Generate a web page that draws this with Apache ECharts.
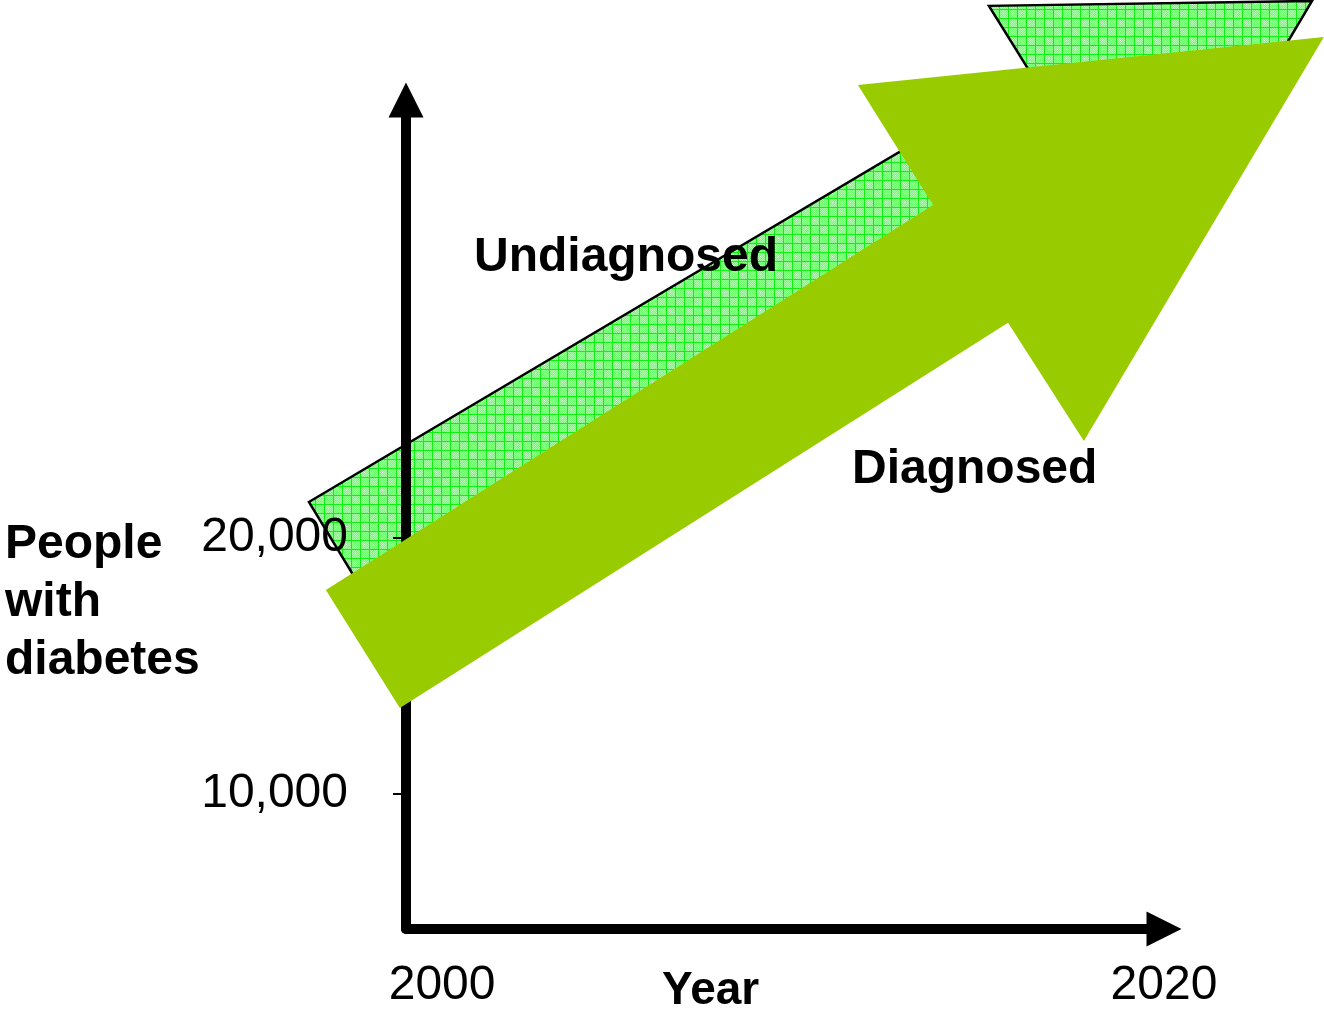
<!DOCTYPE html>
<html>
<head>
<meta charset="utf-8">
<title>People with diabetes</title>
<script src="https://cdn.jsdelivr.net/npm/echarts@6/dist/echarts.min.js"></script>
<style>
  html, body { margin: 0; padding: 0; background: #fff; }
  #chart { width: 1324px; height: 1012px; }
</style>
</head>
<body>
<div id="chart"></div>
<script>
// axis ticks
const yearLabels = [2000, 2020]
const peopleTicks = [10000, 20000]

// arrow outlines in (year, people), clockwise from the tail top corner
const undiagnosedYears = [1996.31, 2016.32, 2015.15, 2024.10, 2019.67, 2018.34, 1998.31]
const undiagnosedPeople = [21390, 38120, 40780, 40970, 30420, 33470, 16740]

const diagnosedYears = [1996.78, 2013.60, 2011.52, 2024.43, 2017.78, 2015.68, 1998.83]
const diagnosedPeople = [17950, 33000, 37690, 39560, 23770, 28390, 13340]

const FONT = '"Liberation Sans", Arial, sans-serif'

// light green chequered fill, like the old office pattern
function gridPattern() {
  const size = 9
  const c = document.createElement('canvas')
  c.width = size
  c.height = size
  const ctx = c.getContext('2d')
  for (let i = 0; i < size; i++) {
    for (let j = 0; j < size; j++) {
      ctx.fillStyle = (i + j) % 2 ? '#6cff6c' : '#a8ffa8'
      ctx.fillRect(i, j, 1, 1)
    }
  }
  ctx.fillStyle = '#f4fff4'
  ctx.fillRect(4, 4, 1, 1)
  ctx.fillStyle = '#10f010'
  ctx.fillRect(0, 0, size, 1)
  ctx.fillRect(0, 0, 1, size)
  return c
}

function arrowSeries(name, years, people, style, z) {
  return {
    name: name,
    type: 'custom',
    z: z,
    silent: true,
    clip: false,
    data: years.map((y, i) => [y, people[i]]),
    encode: { x: 0, y: 1 },
    renderItem(params, api) {
      if (params.dataIndex !== 0) return null
      const points = years.map((y, i) => api.coord([y, people[i]]))
      return { type: 'polygon', shape: { points: points }, style: style }
    }
  }
}

const chart = echarts.init(document.getElementById('chart'))

const option = {
  backgroundColor: '#fff',
  animation: false,
  grid: {
    left: 406,
    right: 160,
    top: 100,
    bottom: 83,
    containLabel: false,
    outerBoundsMode: 'none'
  },
  xAxis: {
    type: 'value',
    min: 1999,
    max: 2020,
    z: 3,
    axisLine: {
      show: true,
      onZero: false,
      symbol: ['none', 'triangle'],
      symbolSize: [35, 35],
      lineStyle: { color: '#000', width: 10 }
    },
    axisTick: { show: false },
    splitLine: { show: false },
    axisLabel: {
      customValues: yearLabels,
      formatter: v => String(v),
      color: '#000',
      fontSize: 48,
      fontFamily: FONT,
      margin: 33
    }
  },
  yAxis: {
    type: 'value',
    min: 4700,
    max: 37100,
    z: 3,
    axisLine: {
      show: true,
      onZero: false,
      symbol: ['none', 'triangle'],
      symbolSize: [35, 35],
      lineStyle: { color: '#000', width: 10 }
    },
    axisTick: {
      show: true,
      customValues: peopleTicks,
      length: 13,
      lineStyle: { color: '#000', width: 2 }
    },
    splitLine: { show: false },
    axisLabel: {
      customValues: peopleTicks,
      formatter: v => v.toLocaleString('en-US'),
      color: '#000',
      fontSize: 48,
      fontFamily: FONT,
      margin: 58
    }
  },
  series: [
    arrowSeries('Undiagnosed', undiagnosedYears, undiagnosedPeople, {
      fill: { image: gridPattern(), repeat: 'repeat' },
      stroke: '#000',
      lineWidth: 2.5,
      lineJoin: 'miter'
    }, 1),
    arrowSeries('Diagnosed', diagnosedYears, diagnosedPeople, {
      fill: '#99cc00'
    }, 5)
  ],
  graphic: [
    {
      type: 'text', x: 474, y: 258, z: 10,
      style: { text: 'Undiagnosed', fill: '#000', font: 'bold 48px ' + FONT, verticalAlign: 'middle' }
    },
    {
      type: 'text', x: 852, y: 470, z: 10,
      style: { text: 'Diagnosed', fill: '#000', font: 'bold 48px ' + FONT, verticalAlign: 'middle' }
    },
    {
      type: 'text', x: 662, y: 991, z: 10,
      style: { text: 'Year', fill: '#000', font: 'bold 46px ' + FONT, verticalAlign: 'middle' }
    },
    {
      type: 'text', x: 5, y: 516, z: 10,
      style: {
        text: 'People\nwith\ndiabetes',
        fill: '#000',
        font: 'bold 48px ' + FONT,
        lineHeight: 58,
        verticalAlign: 'top'
      }
    }
  ]
}

chart.setOption(option)
</script>
</body>
</html>
